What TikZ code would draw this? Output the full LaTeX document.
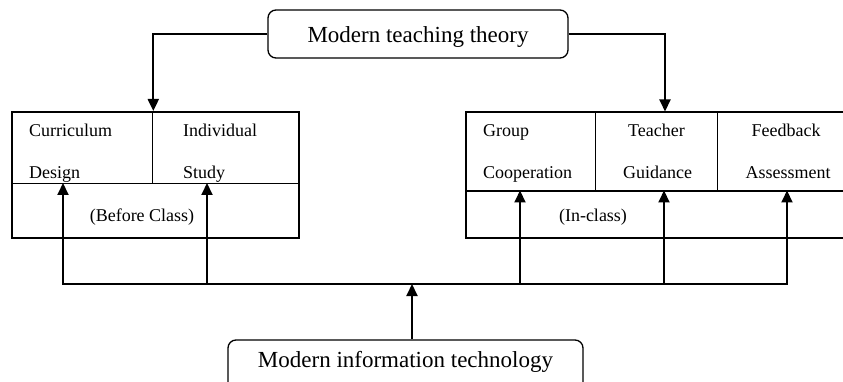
\documentclass[tikz,border=0pt]{standalone}
\usepackage{fontspec}
\setmainfont{Liberation Serif}
\usetikzlibrary{arrows.meta,calc}
\begin{document}
\begin{tikzpicture}[x=1pt,y=-1pt,
  cell/.style={draw, line width=1.3pt, inner sep=0pt, anchor=north west},
  frame/.style={draw, line width=2pt, inner sep=0pt, anchor=north west},
  lbl/.style={font=\fontsize{18}{20}\selectfont, inner sep=0pt},
  bigbox/.style={draw, line width=1.3pt, rounded corners=8pt, font=\fontsize{23}{26}\selectfont, inner xsep=0pt},
  arr/.style={line width=2pt, -{Triangle[length=12pt,width=11pt]}}]
\useasboundingbox (0,0) rectangle (843,382);
\clip (0,0) rectangle (843,382);
% top and bottom boxes
\node[bigbox, anchor=base, text height=20pt, text depth=2pt, inner ysep=13pt, minimum width=300pt] (top) at (418,43) {Modern teaching theory};
\node[bigbox, anchor=base, text height=16pt, text depth=50pt, inner ysep=11pt, minimum width=355pt] (mit) at (405.5,367) {Modern information technology};
% left box
\node[cell, minimum width=141pt, minimum height=72pt] (cd) at (11,111) {};
\node[cell, minimum width=146pt, minimum height=72pt] (is) at (152,111) {};
\node[cell, minimum width=287pt, minimum height=54pt] (bc) at (11,183) {};
\node[frame, minimum width=287pt, minimum height=126pt] (lf) at (11,111) {};
% right box
\node[cell, minimum width=130pt, minimum height=79pt] (gc) at (465,111.5) {};
\node[cell, minimum width=122pt, minimum height=79pt] (tg) at (595,111.5) {};
\node[cell, minimum width=143pt, minimum height=79pt] (fa) at (717,111.5) {};
\node[cell, minimum width=395pt, minimum height=46pt] (ic) at (465,190.5) {};
\node[frame, minimum width=395pt, minimum height=125.5pt] (rf) at (465,111.5) {};
% labels
\node[lbl, anchor=base west] (l1) at (29,137) {Curriculum};
\node[lbl, anchor=base west] (l2) at (29,179) {Design};
\node[lbl, anchor=base west] (l3) at (183,137) {Individual};
\node[lbl, anchor=base west] (l4) at (183,179) {Study};
\node[lbl, anchor=base] (l5) at (142,222) {(Before Class)};
\node[lbl, anchor=base west] (r1) at (483,137) {Group};
\node[lbl, anchor=base west] (r2) at (483,179) {Cooperation};
\node[lbl, anchor=base] (r3) at (656.5,137) {Teacher};
\node[lbl, anchor=base] (r4) at (657.5,179) {Guidance};
\node[lbl, anchor=base] (r5) at (786,137) {Feedback};
\node[lbl, anchor=base] (r6) at (788,179) {Assessment};
\node[lbl, anchor=base] (r7) at (593,222) {(In-class)};
% connectors from top
\coordinate (rtip) at (665,111.5);
\draw[arr] (top.west) -| (cd.north east);
\draw[arr] (top.east) -| (rtip);
% bus
\coordinate (hub) at (412,284);
\coordinate (b1) at (63,284);
\coordinate (b2) at (207,284);
\coordinate (b4) at (520,284);
\coordinate (b5) at (664,284);
\coordinate (b6) at (787,284);
\draw[arr] (mit.north -| hub) -- (hub);
\draw[arr] (hub) -- (b1) -- (b1 |- bc.north);
\draw[arr] (hub) -- (b6) -- (b6 |- ic.north);
\draw[arr] (b2) -- (b2 |- bc.north);
\draw[arr] (b4) -- (b4 |- ic.north);
\draw[arr] (b5) -- (b5 |- ic.north);
\end{tikzpicture}
\end{document}
